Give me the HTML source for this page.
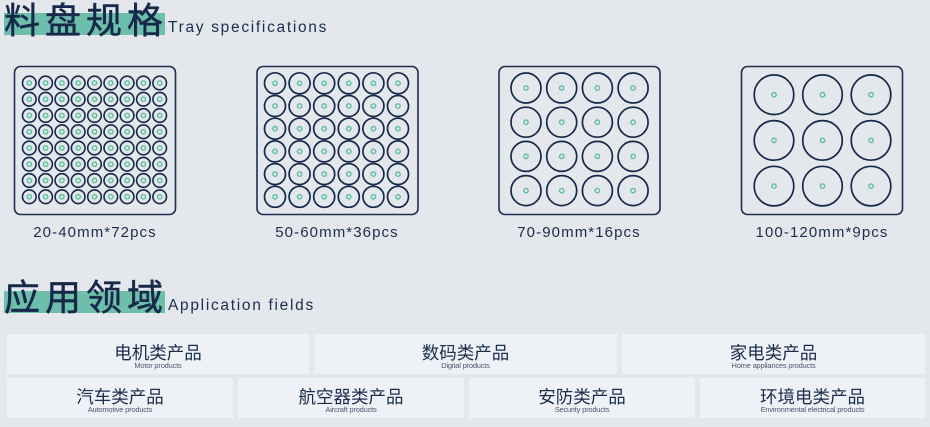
<!DOCTYPE html>
<html><head><meta charset="utf-8"><style>
body{margin:0;width:930px;height:427px;background:#e4e7eb;position:relative;overflow:hidden;font-family:"Liberation Sans","Noto Sans CJK SC",sans-serif;color:#1b2d4d}
.hl{position:absolute;background:#6dbfab}
.t{position:absolute;font-size:36px;line-height:36px;letter-spacing:5px;color:#17294a;font-weight:normal;-webkit-text-stroke:0.5px #17294a}
.e{position:absolute;font-size:15.5px;letter-spacing:1.7px;color:#1b2d4d}
.lab{position:absolute;width:220px;text-align:center;font-size:15px;letter-spacing:1.1px;top:224px}
.c{position:absolute;background:#eef1f5;height:40px;text-align:center}
.c b{display:block;font-weight:normal;font-size:17.5px;line-height:18px;margin-top:10px;color:#1b2d4d}
.c i{display:block;font-style:normal;font-size:7.5px;line-height:8px;color:#4a5870;letter-spacing:-.2px}
</style></head><body>
<div class="hl" style="left:4px;top:13px;width:161px;height:22px"></div>
<div class="t" style="left:4px;top:3px">料盘规格</div>
<div class="e" style="left:168px;top:19px">Tray specifications</div>
<div class="hl" style="left:4px;top:291px;width:161px;height:22px"></div>
<div class="t" style="left:4px;top:280px">应用领域</div>
<div class="e" style="left:168px;top:297px">Application fields</div>
<svg width="930" height="260" style="position:absolute;left:0;top:0" id="s"></svg>
<div class="lab" style="left:-15px">20-40mm*72pcs</div>
<div class="lab" style="left:227px">50-60mm*36pcs</div>
<div class="lab" style="left:469px">70-90mm*16pcs</div>
<div class="lab" style="left:712px">100-120mm*9pcs</div>
<div class="c" style="left:7px;top:334px;width:302px"><b>电机类产品</b><i>Motor products</i></div>
<div class="c" style="left:314px;top:334px;width:303px"><b>数码类产品</b><i>Digital products</i></div>
<div class="c" style="left:622px;top:334px;width:303px"><b>家电类产品</b><i>Home appliances products</i></div>
<div class="c" style="left:7px;top:378px;width:226px"><b>汽车类产品</b><i>Automotive products</i></div>
<div class="c" style="left:238px;top:378px;width:226px"><b>航空器类产品</b><i>Aircraft products</i></div>
<div class="c" style="left:469px;top:378px;width:226px"><b>安防类产品</b><i>Security products</i></div>
<div class="c" style="left:700px;top:378px;width:225px"><b>环境电类产品</b><i>Environmental electrical products</i></div>
<script>
var s=document.getElementById('s'),h='';
function tray(x,cx0,dx,nx,cy0,dy,ny,r,sw){
h+='<rect x="'+x+'" y="66.5" width="161" height="148" rx="6" fill="none" stroke="#1d2f52" stroke-width="1.6"/>';
for(var i=0;i<nx;i++)for(var j=0;j<ny;j++){var cx=cx0+i*dx,cy=cy0+j*dy;
h+='<circle cx="'+cx+'" cy="'+cy+'" r="'+r+'" fill="none" stroke="#17294a" stroke-width="'+sw+'"/>';
h+='<circle cx="'+cx+'" cy="'+cy+'" r="2.2" fill="none" stroke="#5bbfa3" stroke-width="1.4"/>';}}
tray(14.5,29.3,16.3,9,83,16.25,8,6.8,1.6);
tray(257,275,24.6,6,83.3,22.7,6,10.5,1.7);
tray(499,526,35.7,4,88,34.2,4,15,1.7);
tray(741.5,774,48.5,3,94.7,45.7,3,19.8,1.7);
s.innerHTML=h;
</script>
</body></html>
